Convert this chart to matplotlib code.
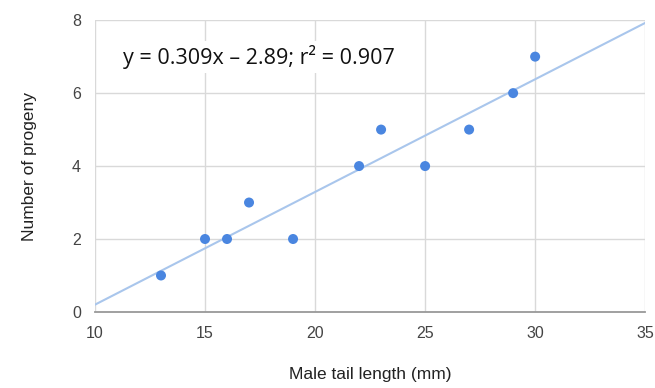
import matplotlib.pyplot as plt
import numpy as np

# data
tail_mm = [13, 15, 16, 17, 19, 22, 23, 25, 27, 29, 30]
progeny = [1, 2, 2, 3, 2, 4, 5, 4, 5, 6, 7]
slope, intercept = 0.309, -2.89
x_ticks = [10, 15, 20, 25, 30, 35]
y_ticks = [0, 2, 4, 6, 8]

fig = plt.figure(figsize=(6.55, 3.88), dpi=100)
ax = fig.add_axes([0.145, 0.196, 0.840, 0.752])

# trendline
xl = np.array([x_ticks[0], x_ticks[-1]])
ax.plot(xl, slope * xl + intercept, color="#a9c6ec", lw=1.5, zorder=2)

ax.scatter(tail_mm, progeny, s=52, color="#4a86e0", edgecolors="none", zorder=3)

ax.set_xlim(10, 35)
ax.set_ylim(0, 8)
ax.set_xticks(x_ticks)
ax.set_yticks(y_ticks)
ax.grid(True, color="#d9d9d9", lw=1)
ax.set_axisbelow(True)
for s in ["top", "right", "left"]:
    ax.spines[s].set_visible(False)
ax.spines["bottom"].set_color("#999999")
ax.spines["bottom"].set_linewidth(1.3)
ax.tick_params(length=0, labelsize=11.5, colors="#444444")
ax.tick_params(axis="x", pad=10)
ax.tick_params(axis="y", pad=10)
for lab in ax.get_xticklabels() + ax.get_yticklabels():
    lab.set_family("Liberation Sans")

ax.set_xlabel("Male tail length (mm)", fontsize=12.5, family="Liberation Sans",
              color="#222222", labelpad=19)
ax.set_ylabel("Number of progeny", fontsize=12.5, family="Liberation Sans",
              color="#222222", labelpad=25)

ax.text(11.27, 6.99, "y = 0.309x \u2013 2.89; r\u00b2 = 0.907", fontsize=15.5,
        family="Open Sans", color="#111111", va="center", ha="left",
        bbox=dict(facecolor="white", edgecolor="none", pad=3))

fig.savefig("out.png", dpi=100)
